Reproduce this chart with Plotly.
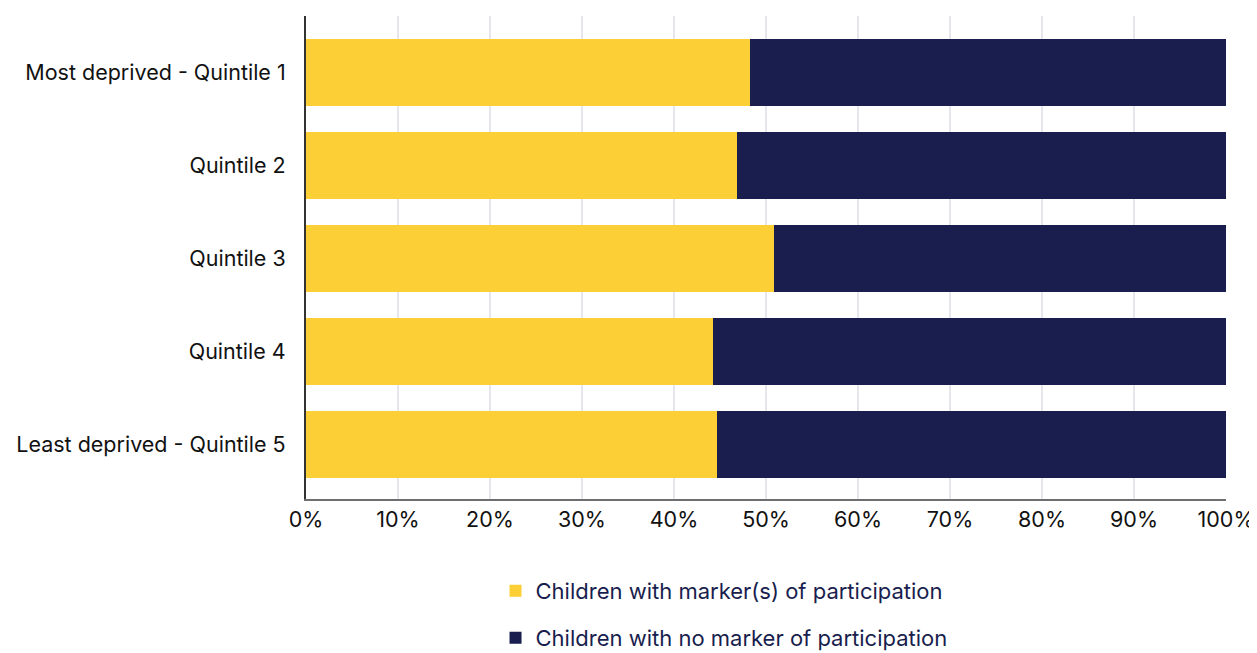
import plotly.graph_objects as go

categories = [
    "Most deprived - Quintile 1",
    "Quintile 2",
    "Quintile 3",
    "Quintile 4",
    "Least deprived - Quintile 5",
]
with_marker = [48.3, 46.8, 50.9, 44.2, 44.7]
no_marker = [51.7, 53.2, 49.1, 55.8, 55.3]
x_ticks = [0, 10, 20, 30, 40, 50, 60, 70, 80, 90, 100]
x_tick_labels = [f"{v}%" for v in x_ticks]

YELLOW = "#FDCF36"
NAVY = "#191E4E"
FONT = "Inter, Roboto, 'Noto Sans', sans-serif"

fig = go.Figure()
fig.add_trace(go.Bar(
    y=categories, x=with_marker, orientation="h",
    name="Children with marker(s) of participation",
    marker=dict(color=YELLOW, line=dict(width=0)),
    width=0.72, legend="legend",
))
fig.add_trace(go.Bar(
    y=categories, x=no_marker, orientation="h",
    name="Children with no marker of participation",
    marker=dict(color=NAVY, line=dict(width=0)),
    width=0.72, legend="legend2",
))

legend_common = dict(
    orientation="v", xanchor="left", yanchor="middle",
    font=dict(family=FONT, size=22, color=NAVY),
    bgcolor="rgba(0,0,0,0)", borderwidth=0,
)

fig.update_layout(
    barmode="stack",
    width=1249, height=645,
    margin=dict(l=298, r=31, t=8, b=154, pad=0, autoexpand=False),
    paper_bgcolor="white", plot_bgcolor="white",
    font=dict(family=FONT, size=21, color="#111111"),
    showlegend=True,
    legend=dict(x=0.206, y=-0.1905, **legend_common),
    legend2=dict(x=0.206, y=-0.2878, **legend_common),
    xaxis=dict(
        range=[0, 100], tickvals=x_ticks, ticktext=x_tick_labels,
        showgrid=True, gridcolor="#E6E6EE", gridwidth=1.5,
        showline=True, linecolor="#6E6E6E", linewidth=2,
        zeroline=False, ticks="", ticklen=0, automargin=False,
        tickfont=dict(family=FONT, size=21.5, color="#111111"),
        fixedrange=True,
    ),
    yaxis=dict(
        type="category", categoryorder="array", categoryarray=categories,
        range=[4.591, -0.613],
        showgrid=False, showline=True, linecolor="#333333", linewidth=2,
        zeroline=False, ticks="", ticklen=0, ticklabelstandoff=14,
        automargin=False,
        tickfont=dict(family=FONT, size=21.5, color="#111111"),
        fixedrange=True,
    ),
)

fig.write_html("out.html")
